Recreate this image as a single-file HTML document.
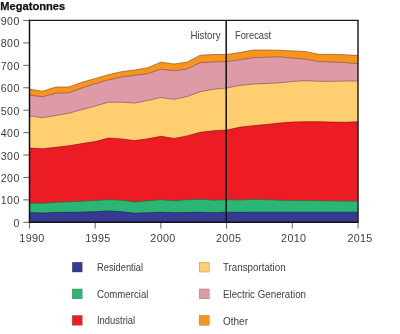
<!DOCTYPE html>
<html><head><meta charset="utf-8"><style>
html,body{margin:0;padding:0;background:#fff;width:400px;height:334px;overflow:hidden}
svg{display:block;will-change:transform}
text{font-family:"Liberation Sans",sans-serif;font-size:10.3px;fill:#404040}
.n{font-size:10.8px;letter-spacing:0.3px}
.m{font-size:10.6px;letter-spacing:0.4px}
</style></head><body>
<svg width="400" height="334" viewBox="0 0 400 334">
<rect width="400" height="334" fill="#fff"/>
<text x="0.3" y="9.8" style="font-weight:bold;font-size:11px;fill:#111;stroke:#111;stroke-width:0.25" textLength="64.8" lengthAdjust="spacingAndGlyphs">Megatonnes</text>
<polygon points="29.5,222.3 29.5,89.2 42.64,91.2 55.78,87 68.92,87 82.06,82.2 95.2,78.5 108.34,74.7 121.48,71.7 134.62,70 147.76,67.7 160.9,62.2 174.04,64 187.18,62.1 200.32,55.2 213.46,54.5 226.6,54.5 239.74,52.5 252.88,50 266.02,50 279.16,50.2 292.3,50.9 305.44,51.5 318.58,54.3 331.72,54.3 344.86,54.7 358,55.6 358,222.3" fill="#f7941d"/><polygon points="29.5,222.3 29.5,95.2 42.64,96.7 55.78,93.3 68.92,92.7 82.06,88 95.2,83.7 108.34,80 121.48,77 134.62,75.3 147.76,73.7 160.9,69.2 174.04,70.7 187.18,69 200.32,62.7 213.46,62 226.6,61.7 239.74,59.8 252.88,57.7 266.02,57.2 279.16,56.8 292.3,58 305.44,59.1 318.58,61.6 331.72,62 344.86,62.5 358,63.7 358,222.3" fill="#de9aa6"/><polygon points="29.5,222.3 29.5,115.8 42.64,117.7 55.78,115.5 68.92,113.2 82.06,109.6 95.2,106 108.34,102.2 121.48,102.2 134.62,103 147.76,100.5 160.9,97.5 174.04,99.3 187.18,96.5 200.32,91.7 213.46,89.2 226.6,88 239.74,85.4 252.88,84.1 266.02,83.5 279.16,82.9 292.3,81.4 305.44,80.7 318.58,81.3 331.72,81.3 344.86,81 358,81.1 358,222.3" fill="#fece70"/><polygon points="29.5,222.3 29.5,148.1 42.64,148.8 55.78,147.3 68.92,145.8 82.06,143.6 95.2,141.6 108.34,138.1 121.48,138.9 134.62,140.6 147.76,138.8 160.9,136.3 174.04,138.4 187.18,135.9 200.32,132.3 213.46,130.8 226.6,130.1 239.74,127.2 252.88,125.7 266.02,124.5 279.16,123.1 292.3,122 305.44,121.7 318.58,121.7 331.72,122.1 344.86,122.2 358,121.8 358,222.3" fill="#ed1c24"/><polygon points="29.5,222.3 29.5,203.2 42.64,203.2 55.78,202.4 68.92,201.7 82.06,201.2 95.2,200.5 108.34,199.7 121.48,200.2 134.62,202 147.76,200.8 160.9,199.7 174.04,200.8 187.18,199.7 200.32,199.3 213.46,200.2 226.6,199.7 239.74,200 252.88,199.3 266.02,199.7 279.16,200.2 292.3,200.4 305.44,200.6 318.58,200.8 331.72,201 344.86,201.1 358,201.3 358,222.3" fill="#2bb673"/><polygon points="29.5,222.3 29.5,212.5 42.64,213 55.78,212.5 68.92,212.3 82.06,212.1 95.2,211.7 108.34,211 121.48,211.7 134.62,213.2 147.76,212.8 160.9,212.2 174.04,212.8 187.18,212.5 200.32,212.2 213.46,212.8 226.6,212.2 239.74,212.3 252.88,212.2 266.02,212.2 279.16,212.2 292.3,212.2 305.44,212.2 318.58,212.2 331.72,212.2 344.86,212.2 358,212.2 358,222.3" fill="#373a92"/>
<polyline points="29.5,89.2 42.64,91.2 55.78,87 68.92,87 82.06,82.2 95.2,78.5 108.34,74.7 121.48,71.7 134.62,70 147.76,67.7 160.9,62.2 174.04,64 187.18,62.1 200.32,55.2 213.46,54.5 226.6,54.5 239.74,52.5 252.88,50 266.02,50 279.16,50.2 292.3,50.9 305.44,51.5 318.58,54.3 331.72,54.3 344.86,54.7 358,55.6" fill="none" stroke="#8a4a10" stroke-width="0.7" stroke-opacity="0.9"/><polyline points="29.5,95.2 42.64,96.7 55.78,93.3 68.92,92.7 82.06,88 95.2,83.7 108.34,80 121.48,77 134.62,75.3 147.76,73.7 160.9,69.2 174.04,70.7 187.18,69 200.32,62.7 213.46,62 226.6,61.7 239.74,59.8 252.88,57.7 266.02,57.2 279.16,56.8 292.3,58 305.44,59.1 318.58,61.6 331.72,62 344.86,62.5 358,63.7" fill="none" stroke="#7a4858" stroke-width="0.7" stroke-opacity="0.9"/><polyline points="29.5,115.8 42.64,117.7 55.78,115.5 68.92,113.2 82.06,109.6 95.2,106 108.34,102.2 121.48,102.2 134.62,103 147.76,100.5 160.9,97.5 174.04,99.3 187.18,96.5 200.32,91.7 213.46,89.2 226.6,88 239.74,85.4 252.88,84.1 266.02,83.5 279.16,82.9 292.3,81.4 305.44,80.7 318.58,81.3 331.72,81.3 344.86,81 358,81.1" fill="none" stroke="#7a4a5a" stroke-width="0.7" stroke-opacity="0.9"/><polyline points="29.5,148.1 42.64,148.8 55.78,147.3 68.92,145.8 82.06,143.6 95.2,141.6 108.34,138.1 121.48,138.9 134.62,140.6 147.76,138.8 160.9,136.3 174.04,138.4 187.18,135.9 200.32,132.3 213.46,130.8 226.6,130.1 239.74,127.2 252.88,125.7 266.02,124.5 279.16,123.1 292.3,122 305.44,121.7 318.58,121.7 331.72,122.1 344.86,122.2 358,121.8" fill="none" stroke="#7a1015" stroke-width="0.7" stroke-opacity="0.9"/><polyline points="29.5,203.2 42.64,203.2 55.78,202.4 68.92,201.7 82.06,201.2 95.2,200.5 108.34,199.7 121.48,200.2 134.62,202 147.76,200.8 160.9,199.7 174.04,200.8 187.18,199.7 200.32,199.3 213.46,200.2 226.6,199.7 239.74,200 252.88,199.3 266.02,199.7 279.16,200.2 292.3,200.4 305.44,200.6 318.58,200.8 331.72,201 344.86,201.1 358,201.3" fill="none" stroke="#186a45" stroke-width="0.7" stroke-opacity="0.9"/><polyline points="29.5,212.5 42.64,213 55.78,212.5 68.92,212.3 82.06,212.1 95.2,211.7 108.34,211 121.48,211.7 134.62,213.2 147.76,212.8 160.9,212.2 174.04,212.8 187.18,212.5 200.32,212.2 213.46,212.8 226.6,212.2 239.74,212.3 252.88,212.2 266.02,212.2 279.16,212.2 292.3,212.2 305.44,212.2 318.58,212.2 331.72,212.2 344.86,212.2 358,212.2" fill="none" stroke="#1a1c55" stroke-width="0.7" stroke-opacity="0.9"/>
<line x1="23.3" y1="222.3" x2="29.5" y2="222.3" stroke="#666" stroke-width="1"/><text class="m" x="19.7" y="226.8" text-anchor="end">0</text><line x1="23.3" y1="199.88" x2="29.5" y2="199.88" stroke="#666" stroke-width="1"/><text class="m" x="19.7" y="204.38" text-anchor="end">100</text><line x1="23.3" y1="177.46" x2="29.5" y2="177.46" stroke="#666" stroke-width="1"/><text class="m" x="19.7" y="181.96" text-anchor="end">200</text><line x1="23.3" y1="155.04" x2="29.5" y2="155.04" stroke="#666" stroke-width="1"/><text class="m" x="19.7" y="159.54" text-anchor="end">300</text><line x1="23.3" y1="132.62" x2="29.5" y2="132.62" stroke="#666" stroke-width="1"/><text class="m" x="19.7" y="137.12" text-anchor="end">400</text><line x1="23.3" y1="110.2" x2="29.5" y2="110.2" stroke="#666" stroke-width="1"/><text class="m" x="19.7" y="114.7" text-anchor="end">500</text><line x1="23.3" y1="87.78" x2="29.5" y2="87.78" stroke="#666" stroke-width="1"/><text class="m" x="19.7" y="92.28" text-anchor="end">600</text><line x1="23.3" y1="65.36" x2="29.5" y2="65.36" stroke="#666" stroke-width="1"/><text class="m" x="19.7" y="69.86" text-anchor="end">700</text><line x1="23.3" y1="42.94" x2="29.5" y2="42.94" stroke="#666" stroke-width="1"/><text class="m" x="19.7" y="47.44" text-anchor="end">800</text><line x1="23.3" y1="20.52" x2="29.5" y2="20.52" stroke="#666" stroke-width="1"/><text class="m" x="19.7" y="25.02" text-anchor="end">900</text>
<line x1="29.5" y1="222.3" x2="29.5" y2="228.6" stroke="#666" stroke-width="1"/><text class="n" x="31.95" y="242.2" text-anchor="middle">1990</text><line x1="95.2" y1="222.3" x2="95.2" y2="228.6" stroke="#666" stroke-width="1"/><text class="n" x="97.9" y="242.2" text-anchor="middle">1995</text><line x1="160.9" y1="222.3" x2="160.9" y2="228.6" stroke="#666" stroke-width="1"/><text class="n" x="162.95" y="242.2" text-anchor="middle">2000</text><line x1="226.6" y1="222.3" x2="226.6" y2="228.6" stroke="#666" stroke-width="1"/><text class="n" x="228.65" y="242.2" text-anchor="middle">2005</text><line x1="292.3" y1="222.3" x2="292.3" y2="228.6" stroke="#666" stroke-width="1"/><text class="n" x="293.7" y="242.2" text-anchor="middle">2010</text><line x1="358" y1="222.3" x2="358" y2="228.6" stroke="#666" stroke-width="1"/><text class="n" x="360" y="242.2" text-anchor="middle">2015</text>
<line x1="358" y1="20.4" x2="358" y2="222.3" stroke="#222" stroke-width="1.5"/>
<line x1="226.2" y1="20.4" x2="226.2" y2="222.3" stroke="#111" stroke-width="1.5"/>
<line x1="28.8" y1="20.4" x2="358.7" y2="20.4" stroke="#1a1a1a" stroke-width="1.4"/>
<line x1="29.5" y1="19.7" x2="29.5" y2="223" stroke="#111" stroke-width="1.5"/>
<line x1="28.8" y1="222.3" x2="358.5" y2="222.3" stroke="#111" stroke-width="1.5"/>
<text x="190.5" y="38.7" textLength="30" lengthAdjust="spacingAndGlyphs">History</text>
<text x="235" y="38.7" textLength="36.2" lengthAdjust="spacingAndGlyphs">Forecast</text>
<rect x="72.25" y="262.25" width="10" height="9.8" fill="#373a92" stroke="#000" stroke-opacity="0.35" stroke-width="0.5"/><text x="97" y="271" textLength="46" lengthAdjust="spacingAndGlyphs">Residential</text><rect x="72.25" y="288.95" width="10" height="9.8" fill="#2bb673" stroke="#000" stroke-opacity="0.35" stroke-width="0.5"/><text x="97" y="297.8" textLength="51.4" lengthAdjust="spacingAndGlyphs">Commercial</text><rect x="72.25" y="315.45" width="10" height="9.8" fill="#ed1c24" stroke="#000" stroke-opacity="0.35" stroke-width="0.5"/><text x="97" y="324.4" textLength="38.2" lengthAdjust="spacingAndGlyphs">Industrial</text><rect x="199.25" y="262.25" width="10" height="9.8" fill="#fece70" stroke="#000" stroke-opacity="0.35" stroke-width="0.5"/><text x="223" y="271" textLength="62.6" lengthAdjust="spacingAndGlyphs">Transportation</text><rect x="199.25" y="288.95" width="10" height="9.8" fill="#de9aa6" stroke="#000" stroke-opacity="0.35" stroke-width="0.5"/><text x="223" y="298" textLength="83" lengthAdjust="spacingAndGlyphs">Electric Generation</text><rect x="199.25" y="315.45" width="10" height="9.8" fill="#f7941d" stroke="#000" stroke-opacity="0.35" stroke-width="0.5"/><text x="223" y="324.5" textLength="25" lengthAdjust="spacingAndGlyphs">Other</text>
</svg>
</body></html>
